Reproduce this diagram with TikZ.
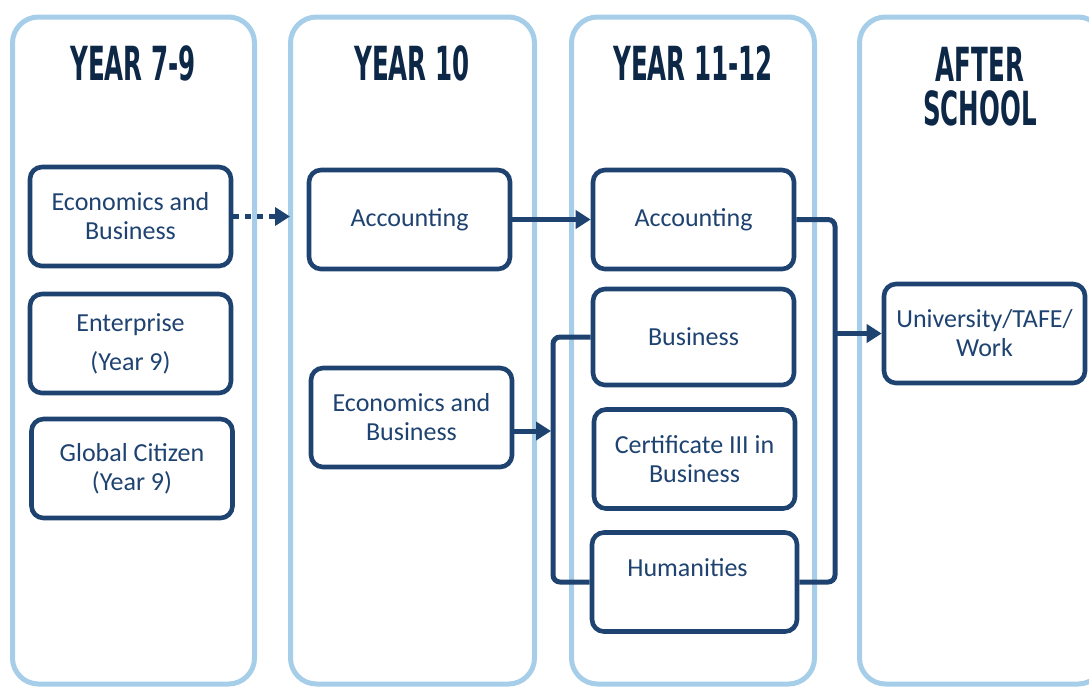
\documentclass[tikz,border=0pt]{standalone}
\usepackage{fontspec}
\setmainfont{Carlito}
\newfontfamily\headfont[FakeStretch=0.58]{DejaVu Sans Condensed Bold}
\usepackage{tikz}
\usetikzlibrary{arrows.meta}
\definecolor{navyx}{HTML}{1F4371}
\definecolor{inkx}{HTML}{0D2747}
\definecolor{skyx}{HTML}{A6CEE9}
\tikzset{
  panel/.style={draw=skyx,line width=5pt,rounded corners=26pt},
  head/.style={font=\headfont\fontsize{47}{44}\selectfont,text=inkx,align=center,inner sep=0pt,anchor=north},
  pbox/.style={draw=navyx,line width=4.6pt,rounded corners=12pt,fill=white,minimum width=201pt,minimum height=99pt,
    align=center,text=navyx,font=\fontsize{26}{29}\selectfont,inner sep=0pt},
  conn/.style={draw=navyx,line width=5pt,rounded corners=7pt},
  ar/.style={conn,-{Triangle[length=15pt,width=18pt]}},
  dar/.style={ar,dash pattern=on 6pt off 6pt}
}

\begin{document}
\begin{tikzpicture}[x=1pt,y=-1pt]
\useasboundingbox (0,0) rectangle (1089,689);
% year columns
\draw[panel] (12.5,17) rectangle (254.5,684);
\draw[panel] (290.5,17) rectangle (534.5,684);
\draw[panel] (571.5,17) rectangle (814.5,684);
\draw[panel] (859.5,17) rectangle (1104,684);
\node[head] (h79) at (133,45) {YEAR 7-9};
\node[head] (h10) at (412,45) {YEAR 10};
\node[head] (h12) at (693,45) {YEAR 11-12};
\node[head] (hout) at (980,47) {AFTER\\SCHOOL};

% subjects
\node[pbox] (eb9) at (130.5,216.5) {Economics and\\Business};
\node[pbox] (ent) at (130.5,343.5) {Enterprise\\[10pt](Year 9)};
\node[pbox] (gc) at (132,468.5) {Global Citizen\\(Year 9)};
\node[pbox] (acc10) at (409.5,219.5) {Accounting};
\node[pbox] (eb10) at (411.5,417.5) {Economics and\\Business};
\node[pbox] (acc12) at (693.5,219.5) {Accounting};
\node[pbox,minimum height=96pt] (bus) at (693.5,337) {Business};
\node[pbox] (cert) at (694.5,459) {Certificate III in\\Business};
\node[pbox,minimum width=205pt] (hum) at (694.5,582) {Humanities\hspace*{14pt}\\\mbox{}};
\node[pbox] (uni) at (984.5,333.5) {University/TAFE/\\Work};

% links
\coordinate (lbar) at (553,0);
\coordinate (rbar) at (835,0);
\coordinate (in10) at (290,216.5);
\coordinate (jn) at (551,431);
\draw[dar] (eb9.east) -- (in10);
\draw[ar] (acc10.east) -- (acc12.west);
\draw[conn] (bus.west) -- (bus.west -| lbar) -- (hum.west -| lbar) -- (hum.west);
\draw[ar] (eb10.east |- jn) -- (jn);
\draw[conn] (acc12.east) -- (acc12.east -| rbar) -- (hum.east -| rbar) -- (hum.east);
\draw[ar] (rbar |- uni.west) -- (uni.west);
\end{tikzpicture}
\end{document}
